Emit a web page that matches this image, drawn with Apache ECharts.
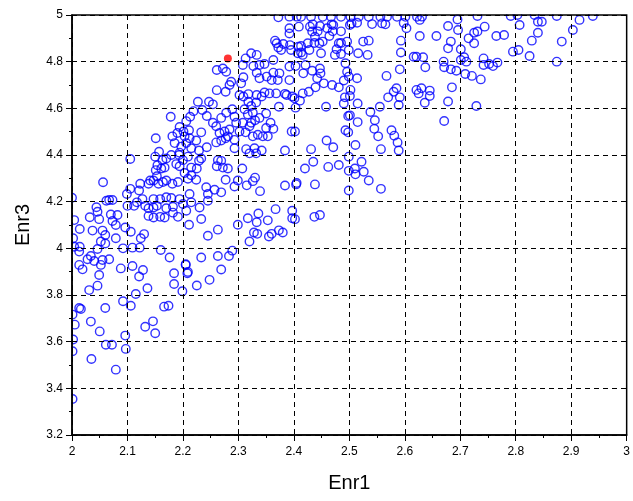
<!DOCTYPE html>
<html><head><meta charset="utf-8">
<script src="https://cdn.jsdelivr.net/npm/echarts@6/dist/echarts.min.js"></script>
<style>html,body{margin:0;padding:0;background:#fff}#c{width:633px;height:501px}</style>
</head><body><div id="c"></div>
<script>
const xTicks = [2, 2.1, 2.2, 2.3, 2.4, 2.5, 2.6, 2.7, 2.8, 2.9, 3];
const yTicks = [3.2, 3.4, 3.6, 3.8, 4, 4.2, 4.4, 4.6, 4.8, 5];
const highlight = [[2.281, 4.814]];
const enrPoints = [
[2.261,4.678],[2.277,4.671],[2.302,4.657],[2.318,4.661],[2.333,4.657],[2.347,4.668],[2.384,4.662],[2.397,4.651],[2.309,4.651],[2.318,4.628],
[2.332,4.625],[2.323,4.610],[2.342,4.651],[2.227,4.628],[2.247,4.628],[2.254,4.617],[2.289,4.596],[2.373,4.607],[2.403,4.603],[2.219,4.588],
[2.235,4.593],[2.243,4.567],[2.213,4.564],[2.206,4.545],[2.178,4.564],[2.254,4.538],[2.269,4.559],[2.278,4.581],[2.293,4.564],[2.311,4.596],
[2.317,4.574],[2.326,4.581],[2.338,4.559],[2.350,4.578],[2.330,4.549],[2.323,4.538],[2.308,4.538],[2.296,4.538],[2.194,4.520],[2.201,4.501],
[2.211,4.506],[2.190,4.494],[2.181,4.480],[2.151,4.472],[2.203,4.480],[2.212,4.472],[2.224,4.462],[2.233,4.497],[2.260,4.523],[2.266,4.494],
[2.275,4.501],[2.284,4.509],[2.281,4.480],[2.293,4.465],[2.302,4.501],[2.313,4.497],[2.320,4.523],[2.335,4.487],[2.350,4.516],[2.363,4.512],
[2.326,4.480],[2.344,4.480],[2.353,4.480],[2.358,4.538],[2.396,4.501],[2.185,4.451],[2.197,4.436],[2.206,4.451],[2.215,4.429],[2.194,4.410],
[2.229,4.419],[2.243,4.433],[2.260,4.454],[2.269,4.462],[2.277,4.472],[2.293,4.429],[2.314,4.425],[2.320,4.407],[2.329,4.429],[2.332,4.407],
[2.342,4.419],[2.384,4.419],[2.157,4.414],[2.150,4.393],[2.163,4.378],[2.170,4.385],[2.179,4.400],[2.193,4.400],[2.200,4.378],[2.209,4.393],
[2.188,4.361],[2.194,4.352],[2.215,4.346],[2.225,4.342],[2.229,4.375],[2.233,4.385],[2.263,4.378],[2.269,4.375],[2.261,4.352],[2.272,4.346],
[2.281,4.342],[2.307,4.342],[2.105,4.383],[2.154,4.356],[2.151,4.335],[2.161,4.342],[2.167,4.346],[2.153,4.309],[2.141,4.291],[2.138,4.277],
[2.147,4.291],[2.156,4.277],[2.164,4.284],[2.170,4.291],[2.181,4.277],[2.191,4.284],[2.203,4.323],[2.209,4.298],[2.215,4.313],[2.224,4.294],
[2.242,4.262],[2.257,4.251],[2.269,4.240],[2.277,4.294],[2.293,4.265],[2.299,4.291],[2.315,4.270],[2.326,4.288],[2.330,4.303],[2.339,4.245],
[2.384,4.269],[2.404,4.274],[2.123,4.277],[2.121,4.248],[2.105,4.255],[2.099,4.233],[2.127,4.211],[2.117,4.197],[2.132,4.182],[2.112,4.182],
[2.100,4.182],[2.147,4.211],[2.159,4.211],[2.170,4.219],[2.179,4.216],[2.194,4.211],[2.200,4.190],[2.212,4.233],[2.215,4.197],[2.245,4.204],
[2.245,4.233],[2.147,4.175],[2.138,4.172],[2.153,4.182],[2.170,4.172],[2.182,4.178],[2.159,4.135],[2.167,4.132],[2.147,4.132],[2.138,4.139],
[2.182,4.153],[2.191,4.135],[2.206,4.161],[2.230,4.175],[2.336,4.149],[2.367,4.168],[2.397,4.161],[2.317,4.129],[2.353,4.120],[2.397,4.129],
[2.056,4.283],[2.000,4.217],[2.062,4.204],[2.067,4.207],[2.073,4.207],[2.044,4.176],[2.046,4.157],[2.032,4.133],[2.049,4.125],[2.070,4.145],
[2.082,4.143],[2.073,4.117],[2.079,4.100],[2.004,4.121],[2.014,4.083],[2.037,4.076],[2.055,4.076],[2.060,4.057],[2.052,4.029],[2.079,4.043],
[2.002,4.043],[2.004,4.007],[2.014,4.007],[2.013,3.986],[2.046,3.997],[2.060,4.021],[2.034,3.967],[2.028,3.953],[2.040,3.946],[2.052,3.929],
[2.055,3.950],[2.067,3.953],[2.013,3.929],[2.019,3.910],[2.049,3.886],[2.092,4.000],[2.109,4.003],[2.122,4.003],[2.109,3.924],[2.128,3.907],
[2.121,3.879],[2.088,3.914],[2.106,4.071],[2.130,4.061],[2.124,4.043],[2.160,3.993],[2.176,3.961],[2.184,3.893],[2.205,3.929],[2.208,3.893],
[2.096,4.089],[2.184,3.847],[2.046,3.840],[2.031,3.821],[2.136,3.829],[2.115,3.804],[2.199,3.816],[2.092,3.773],[2.106,3.754],[2.060,3.744],
[2.013,3.744],[2.016,3.740],[2.166,3.750],[2.174,3.754],[2.001,3.716],[2.034,3.686],[2.005,3.673],[2.146,3.687],[2.132,3.664],[2.050,3.644],
[2.150,3.636],[2.096,3.626],[2.061,3.587],[2.072,3.587],[2.002,3.609],[2.001,3.559],[2.097,3.569],[2.035,3.526],[2.079,3.480],[2.001,3.354],
[2.211,4.101],[2.233,4.126],[2.245,4.054],[2.263,4.080],[2.299,4.101],[2.333,4.112],[2.328,4.068],[2.334,4.062],[2.320,4.029],[2.355,4.051],
[2.360,4.062],[2.373,4.077],[2.380,4.068],[2.289,3.990],[2.283,3.967],[2.263,3.967],[2.233,3.961],[2.205,3.932],[2.209,3.899],[2.269,3.909],
[2.248,3.865],[2.225,3.841],
[2.372,4.990],[2.392,4.993],[2.392,4.943],[2.392,4.921],[2.366,4.890],[2.369,4.879],[2.372,4.861],[2.377,4.850],[2.381,4.876],[2.393,4.871],
[2.408,4.864],[2.407,4.836],[2.323,4.836],[2.333,4.829],[2.313,4.814],[2.261,4.764],[2.272,4.771],[2.278,4.757],[2.308,4.786],[2.327,4.781],
[2.338,4.786],[2.347,4.790],[2.363,4.807],[2.333,4.753],[2.363,4.753],[2.338,4.729],[2.351,4.736],[2.360,4.721],[2.371,4.721],[2.374,4.750],
[2.309,4.733],[2.305,4.707],[2.287,4.714],[2.284,4.700],[2.392,4.721],[2.387,4.657],[2.401,4.643],
[2.405,4.993],[2.409,4.950],[2.429,4.950],[2.433,4.929],[2.447,4.953],[2.460,4.943],[2.471,4.957],[2.438,4.907],[2.452,4.886],[2.464,4.910],
[2.446,4.879],[2.449,4.836],[2.425,4.879],[2.413,4.867],[2.413,4.839],[2.477,4.853],[2.474,4.829],[2.485,4.833],[2.481,4.879],[2.496,4.886],
[2.501,4.957],[2.504,4.964],[2.514,4.967],[2.541,4.961],[2.525,4.886],[2.535,4.890],[2.516,4.836],[2.533,4.829],[2.559,4.964],[2.593,4.890],
[2.593,4.839],[2.603,4.943],[2.616,4.821],[2.403,4.781],[2.421,4.786],[2.417,4.750],[2.433,4.761],[2.447,4.771],[2.448,4.750],[2.442,4.729],
[2.439,4.690],[2.427,4.671],[2.454,4.707],[2.469,4.700],[2.481,4.690],[2.490,4.719],[2.493,4.793],[2.496,4.757],[2.499,4.736],[2.502,4.679],
[2.501,4.653],[2.492,4.647],[2.514,4.729],[2.490,4.621],[2.411,4.633],[2.458,4.607],[2.515,4.621],[2.555,4.607],[2.567,4.739],[2.580,4.671],
[2.585,4.686],[2.591,4.647],[2.570,4.647],[2.589,4.614],[2.591,4.767],[2.621,4.679],
[2.413,4.992],[2.431,4.992],[2.452,4.992],[2.467,4.992],[2.485,4.992],[2.502,4.992],[2.517,4.992],[2.535,4.992],[2.556,4.992],[2.568,4.992],
[2.586,4.992],[2.601,4.992],[2.622,4.992],[2.434,4.960],[2.468,4.960],[2.565,4.960],[2.598,4.966],[2.443,4.930],[2.470,4.930],[2.485,4.930],
[2.437,4.880],[2.485,4.880],[2.395,4.850],[2.428,4.850],[2.499,4.850],[2.416,4.829],[2.392,4.779],[2.356,4.664],[2.368,4.664],[2.416,4.664],
[2.498,4.567],[2.501,4.570],[2.515,4.541],[2.538,4.584],[2.546,4.549],[2.545,4.512],[2.552,4.480],[2.493,4.506],[2.498,4.497],[2.576,4.506],
[2.581,4.483],[2.587,4.454],[2.589,4.419],[2.557,4.425],[2.511,4.443],[2.459,4.462],[2.471,4.433],[2.431,4.425],[2.402,4.501],[2.499,4.393],
[2.522,4.371],[2.510,4.342],[2.511,4.317],[2.499,4.332],[2.526,4.328],[2.535,4.291],[2.557,4.255],[2.499,4.248],[2.481,4.357],[2.462,4.349],
[2.435,4.371],[2.420,4.342],[2.405,4.280],[2.438,4.274],[2.437,4.135],[2.447,4.143],[2.402,4.125],
[2.627,4.979],[2.631,4.993],[2.678,4.953],[2.695,4.981],[2.696,4.936],[2.731,4.996],[2.744,4.950],[2.657,4.910],[2.627,4.910],[2.683,4.886],
[2.678,4.857],[2.715,4.900],[2.725,4.924],[2.731,4.929],[2.725,4.879],[2.701,4.853],[2.765,4.910],[2.779,4.914],[2.791,4.996],[2.803,5.000],
[2.807,4.957],[2.834,5.000],[2.840,4.971],[2.847,4.971],[2.874,4.996],[2.915,4.979],[2.939,4.996],[2.840,4.924],[2.829,4.890],[2.903,4.936],
[2.883,4.886],[2.795,4.843],[2.805,4.850],[2.825,4.824],[2.874,4.800],[2.621,4.821],[2.633,4.819],[2.670,4.800],[2.671,4.776],[2.683,4.767],
[2.693,4.761],[2.701,4.807],[2.707,4.819],[2.711,4.800],[2.742,4.814],[2.742,4.786],[2.752,4.790],[2.759,4.781],[2.767,4.796],[2.709,4.747],
[2.721,4.739],[2.737,4.724],[2.637,4.776],[2.630,4.686],[2.625,4.664],[2.645,4.676],[2.645,4.653],[2.636,4.624],[2.685,4.690],[2.678,4.629],
[2.729,4.610],[2.671,4.546]
];
const chart = echarts.init(document.getElementById('c'), null, {renderer: 'canvas'});
const FONT = 'Liberation Sans, Arial, sans-serif';
chart.setOption({
  animation: false,
  backgroundColor: '#ffffff',
  grid: {left: 72, right: 6, top: 15, bottom: 66, show: true, borderColor: '#000', borderWidth: 1.5, backgroundColor: 'transparent', z: 10},
  graphic: [
    {type: 'rect', z: 5, silent: true, shape: {x: 0, y: 0, width: 71.2, height: 501}, style: {fill: '#fff'}},
    {type: 'rect', z: 5, silent: true, shape: {x: 0, y: 0, width: 633, height: 14.2}, style: {fill: '#fff'}}
  ],
  xAxis: {
    type: 'value', min: xTicks[0], max: xTicks[xTicks.length - 1], interval: 0.1, z: 10,
    name: 'Enr1', nameLocation: 'middle', nameGap: 38,
    nameTextStyle: {fontFamily: FONT, fontSize: 20, color: '#000'},
    axisLine: {show: true, lineStyle: {color: '#000', width: 1.5}},
    axisTick: {show: true, inside: false, length: 6, lineStyle: {color: '#000'}},
    minorTick: {show: true, splitNumber: 2, length: 3, lineStyle: {color: '#000'}},
    axisLabel: {fontFamily: FONT, fontSize: 12, color: '#000', margin: 11},
    splitLine: {show: true, lineStyle: {color: '#000', width: 1, type: [5, 4]}}
  },
  yAxis: {
    type: 'value', min: yTicks[0], max: yTicks[yTicks.length - 1], interval: 0.2, z: 10,
    name: 'Enr3', nameLocation: 'middle', nameGap: 39,
    nameTextStyle: {fontFamily: FONT, fontSize: 20, color: '#000'},
    axisLine: {show: true, lineStyle: {color: '#000', width: 1.5}},
    axisTick: {show: true, inside: false, length: 6, lineStyle: {color: '#000'}},
    minorTick: {show: true, splitNumber: 2, length: 3, lineStyle: {color: '#000'}},
    axisLabel: {fontFamily: FONT, fontSize: 12, color: '#000', margin: 9},
    splitLine: {show: true, lineStyle: {color: '#000', width: 1, type: [5, 4]}}
  },
  series: [
    {type: 'scatter', data: enrPoints, symbol: 'circle', symbolSize: 8.5, clip: false, z: 2,
     itemStyle: {color: 'rgba(0,0,0,0)', borderColor: '#0000ff', borderWidth: 1.4}},
    {type: 'scatter', data: highlight, symbol: 'circle', symbolSize: 8, clip: false, z: 3,
     itemStyle: {color: '#ff0000', borderColor: '#ff0000', borderWidth: 0}}
  ]
});
</script></body></html>
